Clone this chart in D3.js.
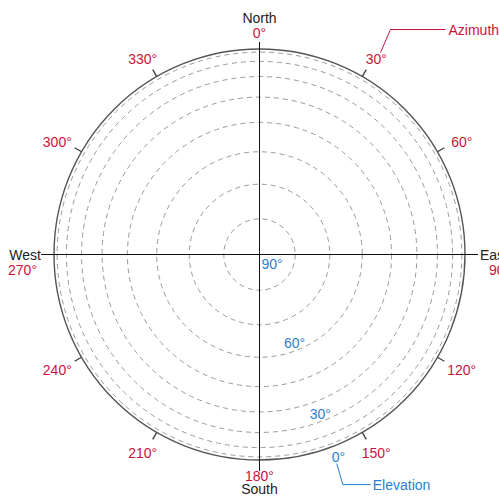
<!DOCTYPE html>
<html><head><meta charset="utf-8">
<script src="https://cdn.jsdelivr.net/npm/d3@7"></script>
<style>
html,body{margin:0;padding:0;background:#fff;}
svg{display:block;font-family:"Liberation Sans",Arial,sans-serif;}
</style></head>
<body>
<svg id="chart" width="499" height="496"></svg>
<script>
const azimuthTicks = [30, 60, 120, 150, 210, 240, 300, 330];
const azimuthLabels = ["30°", "60°", "120°", "150°", "210°", "240°", "300°", "330°"];
const cardinalAngles = [0, 90, 180, 270];
const cardinalNames = ["North", "East", "South", "West"];
const cardinalLabels = ["0°", "90°", "180°", "270°"];
const elevationRings = [80, 70, 60, 50, 40, 30, 20, 10];
const elevationLabelValues = [90, 60, 30, 0];
const elevationLabels = ["90°", "60°", "30°", "0°"];

const W = 499, H = 496;
const cx = 259.5, cy = 254.5, R = 205.5;
const RED = "#c8143c", BLUE = "#2a7fd4", DARK = "#222";

const svg = d3.select("#chart");
const g = svg.append("g").attr("transform", `translate(${cx},${cy})`);

// radius from elevation (orthographic projection)
const rScale = d => R * Math.cos(d * Math.PI / 180);
const pt = (az, r) => [r * Math.sin(az * Math.PI / 180), -r * Math.cos(az * Math.PI / 180)];

// dashed elevation rings
g.selectAll("circle.ring").data(elevationRings).enter().append("circle")
  .attr("class", "ring").attr("r", d => rScale(d))
  .attr("fill", "none").attr("stroke", "#9a9a9a").attr("stroke-width", 1)
  .attr("stroke-dasharray", "5,4");

// outer circle
g.append("circle").attr("r", rScale(0)).attr("fill", "none")
  .attr("stroke", "#555").attr("stroke-width", 1.4);

// crosshair
const ext = R + 13;
g.append("line").attr("x1", 0).attr("x2", 0).attr("y1", -(R + 7)).attr("y2", R + 11).attr("stroke", "#111").attr("stroke-width", 1);
g.append("line").attr("x1", -ext).attr("x2", ext).attr("y1", 0).attr("y2", 0).attr("stroke", "#111").attr("stroke-width", 1);

// azimuth ticks
g.selectAll("line.tick").data(azimuthTicks).enter().append("line")
  .attr("class", "tick")
  .attr("x1", d => pt(d, R)[0]).attr("y1", d => pt(d, R)[1])
  .attr("x2", d => pt(d, R + 8)[0]).attr("y2", d => pt(d, R + 8)[1])
  .attr("stroke", "#444").attr("stroke-width", 1.4);

g.selectAll("text.az").data(azimuthTicks).enter().append("text")
  .attr("class", "az")
  .attr("x", d => pt(d, R + 28)[0]).attr("y", d => pt(d, R + 22)[1] + 6.5)
  .attr("text-anchor", "middle").attr("font-size", 14).attr("fill", RED)
  .text((d, i) => azimuthLabels[i]);

// cardinal labels
cardinalAngles.forEach((a, i) => {
  let nx, ny, lx, ly, anchor;
  if (a === 0) { nx = 0; ny = -R - 26; lx = 0; ly = -R - 11; anchor = "middle"; }
  if (a === 180) { nx = 0; ny = R + 34; lx = 0; ly = R + 21; anchor = "middle"; }
  if (a === 90) { nx = R + 15; ny = 5; lx = R + 24; ly = 20; anchor = "start"; }
  if (a === 270) { nx = -R - 13; ny = 5; lx = -R - 17; ly = 20; anchor = "end"; }
  g.append("text").attr("x", nx).attr("y", ny).attr("text-anchor", anchor)
    .attr("font-size", 14).attr("fill", DARK).text(cardinalNames[i]);
  g.append("text").attr("x", lx).attr("y", ly).attr("text-anchor", anchor)
    .attr("font-size", 14).attr("fill", RED).text(cardinalLabels[i]);
});

// elevation labels along azimuth 160
const elevAz = 160;
g.selectAll("text.el").data(elevationLabelValues).enter().append("text")
  .attr("class", "el")
  .attr("x", d => pt(elevAz, rScale(d))[0] + ((d === 0 || d === 90) ? 2 : 0))
  .attr("y", d => pt(elevAz, rScale(d))[1] + ((d === 0 || d === 90) ? 14 : -3))
  .attr("text-anchor", d => (d === 0 || d === 90) ? "start" : "middle")
  .attr("font-size", 14).attr("fill", BLUE)
  .text((d, i) => elevationLabels[i]);

// callouts
const a0 = [380.5 - cx, 52.5 - cy];
g.append("polyline")
  .attr("points", [a0, [a0[0] + 10, a0[1] - 23], [a0[0] + 65, a0[1] - 23]].map(p => p.join(",")).join(" "))
  .attr("fill", "none").attr("stroke", RED).attr("stroke-width", 1);
g.append("text").attr("x", a0[0] + 68).attr("y", a0[1] - 18)
  .attr("font-size", 14).attr("fill", RED).text("Azimuth");

const elLab = pt(elevAz, rScale(0));
const e0 = [elLab[0] + 7, elLab[1] + 16];
g.append("polyline")
  .attr("points", [e0, [e0[0] + 6, e0[1] + 21], [e0[0] + 34, e0[1] + 21]].map(p => p.join(",")).join(" "))
  .attr("fill", "none").attr("stroke", BLUE).attr("stroke-width", 1);
g.append("text").attr("x", e0[0] + 36).attr("y", e0[1] + 26)
  .attr("font-size", 14).attr("fill", BLUE).text("Elevation");
</script>
</body></html>
